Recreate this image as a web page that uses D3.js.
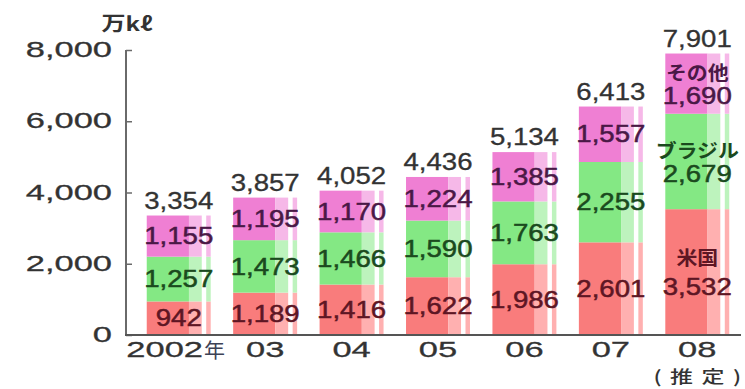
<!DOCTYPE html>
<html>
<head>
<meta charset="utf-8">
<script src="https://cdn.jsdelivr.net/npm/d3@7"></script>
<style>
  html, body { margin: 0; padding: 0; background: #fff; }
  svg { display: block; }
</style>
</head>
<body>
<svg id="chart" width="745" height="389"></svg>
<script>
// ---- data ----
const years = ["2002", "03", "04", "05", "06", "07", "08"];
const usValues = [942, 1189, 1416, 1622, 1986, 2601, 3532];
const brazilValues = [1257, 1473, 1466, 1590, 1763, 2255, 2679];
const otherValues = [1155, 1195, 1170, 1224, 1385, 1557, 1690];
const totals = [3354, 3857, 4052, 4436, 5134, 6413, 7901];
const seriesKeys = ["us", "brazil", "other"];
const seriesNames = ["米国", "ブラジル", "その他"];
const yTicks = [0, 2000, 4000, 6000, 8000];
const unitLabel = "万kℓ";
const yearSuffix = "年";
const estimateNote = "(推定)";

// ---- styling ----
const colSat = { us: "#f97c7c", brazil: "#84e884", other: "#ef7fd3" };
const colLight = { us: "#ffb0b0", brazil: "#bdf3bd", other: "#f6b8e8" };
const colText = { us: "#5e1624", brazil: "#1b4a1e", other: "#4a1846" };
const latin = "'Liberation Sans', Arial, sans-serif";
const cjk = "'Noto Sans CJK JP', sans-serif";

const rows = years.map((y, i) => ({ year: y, us: usValues[i], brazil: brazilValues[i], other: otherValues[i], total: totals[i] }));
const stacked = d3.stack().keys(seriesKeys)(rows);

const svg = d3.select("#chart");
const x = d3.scaleBand().domain(years).range([126, 750]).paddingInner(0.26).paddingOuter(0.24);
const y = d3.scaleLinear().domain([0, 8000]).range([335, 50]);
const bw = x.bandwidth();

function sText(parent, tx, ty, str, opts) {
  const g = parent.append("g").attr("transform", `translate(${tx},${ty})`);
  const t = g.append("text")
    .attr("transform", `scale(${opts.sx || 1},1)`)
    .attr("text-anchor", opts.anchor || "middle")
    .attr("dominant-baseline", "central")
    .attr("font-family", opts.font || latin)
    .attr("font-size", opts.size || 23)
    .attr("font-weight", opts.weight || "normal")
    .attr("fill", opts.fill || "#333")
    .text(str);
  if (opts.stroke) t.attr("stroke", opts.fill).attr("stroke-width", opts.stroke);
  if (opts.len) t.attr("textLength", opts.len).attr("lengthAdjust", "spacing");
  return t;
}

// ---- bars ----
const barG = svg.append("g");
stacked.forEach((layer, li) => {
  const key = layer.key;
  layer.forEach((d, i) => {
    const x0 = x(d.data.year);
    const yTop = y(d[1]), yBot = y(d[0]);
    const h = yBot - yTop;
    barG.append("rect").attr("x", x0).attr("y", yTop).attr("width", bw * 0.66).attr("height", h).attr("fill", colSat[key]);
    barG.append("rect").attr("x", x0 + bw * 0.66).attr("y", yTop).attr("width", bw * 0.2).attr("height", h).attr("fill", colLight[key]);
    barG.append("rect").attr("x", x0 + bw * 0.93).attr("y", yTop).attr("width", bw * 0.07).attr("height", h).attr("fill", colLight[key]);
  });
});

// ---- axes ----
const yAxis = d3.axisRight(y).tickValues(yTicks).tickSize(6).tickFormat("");
const yAxisG = svg.append("g").attr("transform", "translate(126,0)").call(yAxis);
yAxisG.select(".domain").attr("stroke", "#6a6a6a").attr("stroke-width", 2).attr("d", `M0,${y(8000)}V${y(0)}`);
yAxisG.selectAll(".tick line").attr("stroke", "#6a6a6a").attr("stroke-width", 1.5);

yTicks.forEach(v => {
  sText(svg, 112, y(v) - 1, d3.format(",")(v), { anchor: "end", sx: 1.5, fill: "#333", stroke: 0.3 });
});

svg.append("line").attr("x1", 125).attr("x2", 741).attr("y1", y(0)).attr("y2", y(0))
  .attr("stroke", "#555").attr("stroke-width", 2);

// x labels
years.forEach((yr, i) => {
  const cx = x(yr) + bw / 2;
  if (i === 0) {
    sText(svg, 203, 349, yr, { anchor: "end", sx: 1.5, fill: "#333", stroke: 0.3 });
    sText(svg, 204, 349, yearSuffix, { anchor: "start", font: cjk, size: 20, sx: 1.05, fill: "#3d4256" });
  } else {
    sText(svg, cx, 349, yr, { sx: 1.5, fill: "#333", stroke: 0.3 });
  }
});
sText(svg, x("08") + bw / 2, 376, estimateNote, { font: cjk, size: 17, sx: 1.35, fill: "#333", len: 65, weight: "500" });

// unit label
sText(svg, 127, 22, unitLabel, { font: cjk, size: 20, weight: "bold", sx: 1.2, fill: "#333" });

// ---- value labels ----
const lastIdx = years.length - 1;
stacked.forEach((layer, li) => {
  const key = layer.key;
  layer.forEach((d, i) => {
    const cx = x(d.data.year) + bw / 2;
    const cy = (y(d[0]) + y(d[1])) / 2;
    const val = d3.format(",")(d[1] - d[0]);
    if (i === lastIdx) {
      const off = key === "us" ? 15 : 12;
      sText(svg, cx, cy - off, seriesNames[li], { font: cjk, size: 19, weight: "bold", sx: 1.1, fill: colText[key] });
      sText(svg, cx, cy + off, val, { sx: 1.2, fill: colText[key], stroke: 0.5 });
    } else {
      sText(svg, cx, cy, val, { sx: 1.2, fill: colText[key], stroke: 0.5 });
    }
  });
});

// totals
rows.forEach(r => {
  sText(svg, x(r.year) + bw / 2, y(r.total) - 15, d3.format(",")(r.total), { sx: 1.2, fill: "#333", stroke: 0.3 });
});
</script>
</body>
</html>
